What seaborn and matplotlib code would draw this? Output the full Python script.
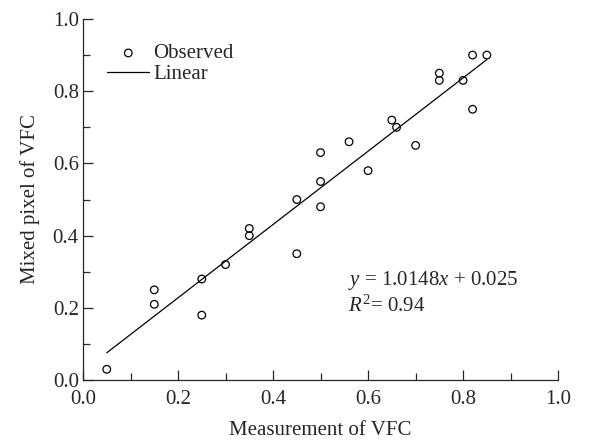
import numpy as np
import pandas as pd
import matplotlib
matplotlib.use('Agg')
import matplotlib.pyplot as plt
import seaborn as sns

# observed points: measurement vs mixed pixel VFC
measured = [0.05, 0.15, 0.15, 0.25, 0.25, 0.30, 0.35, 0.35, 0.45, 0.45, 0.50, 0.50,
            0.50, 0.56, 0.60, 0.65, 0.66, 0.70, 0.75, 0.75, 0.80, 0.82, 0.82, 0.85]
mixed = [0.03, 0.25, 0.21, 0.28, 0.18, 0.32, 0.42, 0.40, 0.50, 0.35, 0.63, 0.55,
         0.48, 0.66, 0.58, 0.72, 0.70, 0.65, 0.85, 0.83, 0.83, 0.90, 0.75, 0.90]

# fitted line
slope = 1.0148
intercept = 0.025
fit_x = [0.05, 0.85]

df = pd.DataFrame({'Measurement': measured, 'Mixed': mixed})
fit = pd.DataFrame({'x': fit_x, 'y': [slope * v + intercept for v in fit_x]})

sns.set_style('ticks')
plt.rcParams['font.family'] = ['Liberation Serif', 'DejaVu Serif']
plt.rcParams['mathtext.fontset'] = 'custom'
plt.rcParams['mathtext.it'] = 'Liberation Serif:italic'
plt.rcParams['mathtext.rm'] = 'Liberation Serif'

fs = 15
fig = plt.figure(figsize=(5.95, 4.41), dpi=100)
ax = fig.add_axes([0.1395, 0.138, 0.7985, 0.819])

sns.scatterplot(data=df, x='Measurement', y='Mixed', ax=ax, marker='o', s=30,
                facecolor='none', edgecolor='black', linewidth=0.9, label='Observed')
sns.lineplot(data=fit, x='x', y='y', ax=ax, color='black', linewidth=0.9, label='Linear')

ax.set_xlim(0, 1.0)
ax.set_ylim(0, 1.0)
ax.set_xticks(np.arange(0, 1.01, 0.2))
ax.set_yticks(np.arange(0, 1.01, 0.2))
ax.set_xticks(np.arange(0.1, 1.0, 0.2), minor=True)
ax.set_yticks(np.arange(0.1, 1.0, 0.2), minor=True)
ax.set_xticklabels([f'{v:.1f}' for v in np.arange(0, 1.01, 0.2)])
ax.set_yticklabels([f'{v:.1f}' for v in np.arange(0, 1.01, 0.2)])
ax.tick_params(which='both', direction='in', labelsize=fs, width=0.9)
ax.tick_params(which='major', length=7.5)
ax.tick_params(which='minor', length=5)
ax.tick_params(axis='x', pad=7)
ax.tick_params(axis='y', pad=3)
sns.despine(ax=ax)
for s in ['left', 'bottom']:
    ax.spines[s].set_linewidth(0.9)

ax.set_xlabel('Measurement of VFC', fontsize=fs, labelpad=9)
ax.set_ylabel('Mixed pixel of VFC', fontsize=fs, labelpad=9)

ax.text(0.558, 0.277, r'$y$ = 1.0148$x$ + 0.025', fontsize=fs, va='center')
ax.text(0.558, 0.205, r'$R^2$= 0.94', fontsize=fs, va='center')

ax.legend(loc='upper left', frameon=False, fontsize=fs, handlelength=2.0,
          handletextpad=0.2, labelspacing=0.05, bbox_to_anchor=(0.012, 0.983))

plt.savefig('out.png', dpi=100)
